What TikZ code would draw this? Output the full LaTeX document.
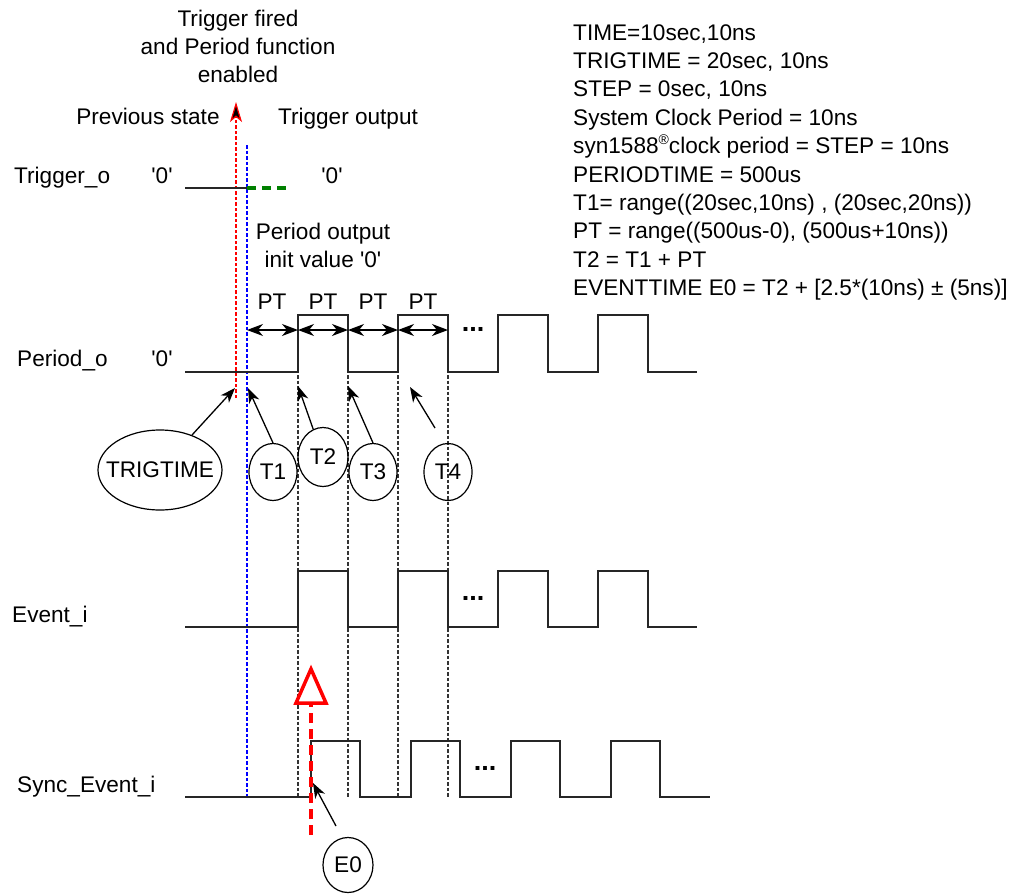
\documentclass[tikz,border=0pt]{standalone}
\usepackage{fontspec}
\newfontfamily\lsf{Liberation Sans}
\usetikzlibrary{arrows.meta,shapes.geometric}
\definecolor{dgreen}{RGB}{0,128,0}
\begin{document}
\begin{tikzpicture}[x=1pt,y=-1pt,
  txt/.style={font=\lsf\fontsize{22.6}{26}\selectfont, inner sep=0pt},
  wave/.style={line width=1.6pt, black!85, line join=miter},
  guide/.style={line width=1.2pt, dash pattern=on 3.5pt off 2pt},
  arr/.style={-{Stealth[length=15pt,width=11pt,inset=4.5pt]}, line width=1.3pt},
  dbl/.style={{Stealth[length=16pt,width=12pt,inset=5pt]}-{Stealth[length=16pt,width=12pt,inset=5pt]}, line width=1.3pt},
  bub/.style={draw, ellipse, line width=1.2pt, inner sep=0pt, font=\lsf\fontsize{22.6}{26}\selectfont, minimum width=48pt, minimum height=57pt},
  dots/.style={font=\lsf\bfseries\fontsize{27}{30}\selectfont, inner sep=0pt, anchor=base}]
\useasboundingbox (0,0) rectangle (1022,894);

% ---- texts top ----
\node[txt,anchor=base] (tf1) at (238,26) {Trigger fired};
\node[txt,anchor=base] (tf2) at (238,54) {and Period function};
\node[txt,anchor=base] (tf3) at (238,82) {enabled};
\node[txt,anchor=base] (prev) at (148,124) {Previous state};
\node[txt,anchor=base] (tout) at (348,124) {Trigger output};
\node[txt,anchor=base west] (trigo) at (14,183) {Trigger\_o};
\node[txt,anchor=base] (q1) at (162,183) {'0'};
\node[txt,anchor=base] (q2) at (332,183) {'0'};
\node[txt,anchor=base] (po1) at (323,239) {Period output};
\node[txt,anchor=base] (po2) at (323,267) {init value '0'};
\node[txt,anchor=base] (pt1) at (272,309) {PT};
\node[txt,anchor=base] (pt2) at (323,309) {PT};
\node[txt,anchor=base] (pt3) at (373,309) {PT};
\node[txt,anchor=base] (pt4) at (423,309) {PT};
\node[txt,anchor=base west] (perio) at (17,366) {Period\_o};
\node[txt,anchor=base] (q3) at (162,366) {'0'};
\node[txt,anchor=base west] (evi) at (12,622) {Event\_i};
\node[txt,anchor=base west] (sevi) at (17,792) {Sync\_Event\_i};

% ---- right block ----
\node[txt,anchor=base west] (r1) at (573,40) {TIME=10sec,10ns};
\node[txt,anchor=base west] (r2) at (573,68.4) {TRIGTIME = 20sec, 10ns};
\node[txt,anchor=base west] (r3) at (573,96.8) {STEP = 0sec, 10ns};
\node[txt,anchor=base west] (r4) at (573,125.2) {System Clock Period = 10ns};
\node[txt,anchor=base west] (r5) at (573,153.6) {syn1588\raisebox{9pt}{\fontsize{14}{14}\selectfont ®}clock period = STEP = 10ns};
\node[txt,anchor=base west] (r6) at (573,182) {PERIODTIME = 500us};
\node[txt,anchor=base west] (r7) at (573,210.4) {T1= range((20sec,10ns) , (20sec,20ns))};
\node[txt,anchor=base west] (r8) at (573,238.8) {PT = range((500us-0), (500us+10ns))};
\node[txt,anchor=base west] (r9) at (573,267.2) {T2 = T1 + PT};
\node[txt,anchor=base west] (r10) at (573,295.6) {EVENTTIME E0 = T2 + [2.5*(10ns) ± (5ns)]};

% ---- guide lines ----
\coordinate (rb) at (236,398);
\coordinate (rt) at (236,102);
\draw[red, guide, -{Stealth[length=20pt,width=12pt,inset=5pt,fill=black]}] (rb) -- (rt);
\coordinate (bt) at (247,145);
\coordinate (bb) at (247,797);
\draw[blue, guide] (bt) -- (bb);
\foreach \x [count=\k] in {298,348,398,448}{
  \coordinate (gt\k) at (\x,375);
  \coordinate (gb\k) at (\x,797);
  \draw[guide, black!80] (gt\k) -- (gb\k);
}

% ---- waveforms ----
\draw[wave] (185,188) -- (247,188);
\draw[dgreen, line width=3.5pt, dash pattern=on 9pt off 6pt] (247,188) -- (287,188);
\draw[wave] (185,372) -- (298,372) -- (298,315) -- (348,315) -- (348,372) -- (398,372) -- (398,315) -- (448,315) -- (448,372) -- (498,372) -- (498,315) -- (548,315) -- (548,372) -- (598,372) -- (598,315) -- (648,315) -- (648,372) -- (697,372);
\draw[wave] (185,627) -- (298,627) -- (298,571) -- (348,571) -- (348,627) -- (398,627) -- (398,571) -- (448,571) -- (448,627) -- (498,627) -- (498,571) -- (548,571) -- (548,627) -- (598,627) -- (598,571) -- (648,571) -- (648,627) -- (697,627);
\draw[wave] (185,797) -- (311,797) -- (311,741) -- (360,741) -- (360,797) -- (411,797) -- (411,741) -- (460,741) -- (460,797) -- (511,797) -- (511,741) -- (560,741) -- (560,797) -- (611,797) -- (611,741) -- (660,741) -- (660,797) -- (710,797);

\node[dots] (d1) at (473,331) {...};
\node[dots] (d2) at (473,600) {...};
\node[dots] (d3) at (485,770) {...};

% ---- PT arrows ----
\foreach \a/\b [count=\k] in {247/298,298/348,348/398,398/448}{
  \coordinate (pa\k) at (\a,330);
  \coordinate (pb\k) at (\b,330);
  \draw[dbl] (pa\k) -- (pb\k);
}

% ---- bubbles ----
\node[bub, minimum width=124pt, minimum height=80pt] (trig) at (160,470) {\makebox[0pt]{TRIGTIME}};
\node[bub] (t1) at (273,472) {T1};
\node[bub, minimum width=50pt, minimum height=59pt] (t2) at (323,457) {T2};
\node[bub] (t3) at (373,472) {T3};
\node[bub] (t4) at (448,472) {T4};
\node[bub, minimum width=50pt, minimum height=55pt] (e0) at (348,865) {E0};

\coordinate (ctr) at (235,388);
\coordinate (ct1) at (248,388);
\coordinate (ct2) at (298,386);
\coordinate (ct3) at (348,386);
\coordinate (ct4a) at (435,428);
\coordinate (ct4b) at (410,387);
\coordinate (ce0a) at (336,826);
\coordinate (ce0b) at (313,783);
\draw[arr] (trig) -- (ctr);
\draw[arr] (t1.north) -- (ct1);
\draw[arr] (t2) -- (ct2);
\draw[arr] (t3.north) -- (ct3);
\draw[arr] (ct4a) -- (ct4b);

% ---- event marker ----
\coordinate (eb) at (311,835);
\coordinate (et) at (311,703);
\coordinate (tl) at (296,703);
\coordinate (ta) at (311,669);
\coordinate (tr) at (326,703);
\draw[red, line width=3.5pt, dash pattern=on 10pt off 6pt] (eb) -- (et);
\draw[red, line width=3.5pt, line join=miter] (tl) -- (ta) -- (tr) -- cycle;
\draw[arr] (ce0a) -- (ce0b);
\end{tikzpicture}
\end{document}
